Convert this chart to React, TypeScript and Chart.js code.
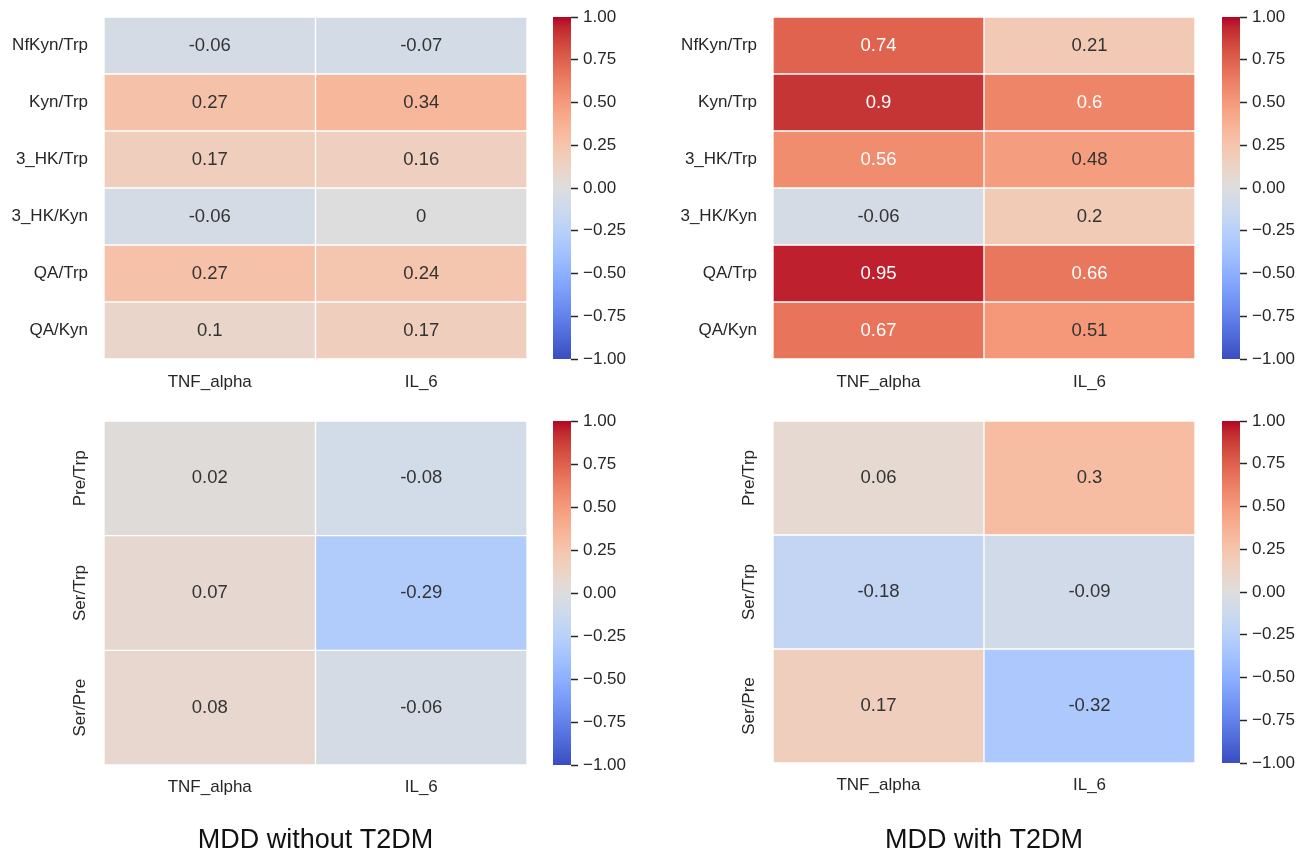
import React, { useEffect, useRef } from 'react';
import { Chart, registerables } from 'chart.js';

Chart.register(...registerables);

// ---------- data ----------
const columns = ['TNF_alpha', 'IL_6'];
const kynRows = ['NfKyn/Trp', 'Kyn/Trp', '3_HK/Trp', '3_HK/Kyn', 'QA/Trp', 'QA/Kyn'];
const serRows = ['Pre/Trp', 'Ser/Trp', 'Ser/Pre'];

const kynWithoutTNF = [-0.06, 0.27, 0.17, -0.06, 0.27, 0.1];
const kynWithoutIL6 = [-0.07, 0.34, 0.16, 0, 0.24, 0.17];
const kynWithTNF = [0.74, 0.9, 0.56, -0.06, 0.95, 0.67];
const kynWithIL6 = [0.21, 0.6, 0.48, 0.2, 0.66, 0.51];

const serWithoutTNF = [0.02, 0.07, 0.08];
const serWithoutIL6 = [-0.08, -0.29, -0.06];
const serWithTNF = [0.06, -0.18, 0.17];
const serWithIL6 = [0.3, -0.09, -0.32];

const colorbarTicks = [-1, -0.75, -0.5, -0.25, 0, 0.25, 0.5, 0.75, 1];
const groupTitles = ['MDD without T2DM', 'MDD with T2DM'];

// ---------- coolwarm colormap (matplotlib) ----------
const CW_R = [0.2298057, 0.26623388, 0.30386891, 0.342804478, 0.38301334, 0.424369608, 0.46666708, 0.509635204, 0.552953156, 0.596262162, 0.639176211, 0.681291281, 0.722193294, 0.761464949, 0.798691636, 0.833466556, 0.865395197, 0.897787179, 0.924127593, 0.944468518, 0.958852946, 0.96732803, 0.969954137, 0.966811177, 0.958003065, 0.943660866, 0.923944917, 0.89904617, 0.869186849, 0.834620542, 0.795631745, 0.752534934, 0.705673158];
const CW_G = [0.298717966, 0.353094838, 0.406535296, 0.458757618, 0.50941904, 0.558148092, 0.604562568, 0.648280772, 0.688929332, 0.726149107, 0.759599947, 0.788964712, 0.813952739, 0.834302879, 0.849786142, 0.860207984, 0.86541021, 0.848937047, 0.827384882, 0.800927443, 0.769767752, 0.734132809, 0.694266682, 0.650421156, 0.602842431, 0.551750968, 0.49730856, 0.439559467, 0.378313092, 0.312874446, 0.24128379, 0.157246067, 0.01555616];
const CW_B = [0.753683153, 0.801466763, 0.84495867, 0.883725899, 0.917387822, 0.945619588, 0.968154911, 0.98478814, 0.995375608, 0.999836203, 0.998151185, 0.990363227, 0.976574709, 0.956945269, 0.931688648, 0.901068838, 0.865395561, 0.820880546, 0.774508472, 0.726736146, 0.678007945, 0.628751763, 0.579375448, 0.530263762, 0.481775914, 0.434243684, 0.387970225, 0.343229596, 0.300267182, 0.259301199, 0.221380405, 0.184977307, 0.150232812];

function coolwarm(v: number): [number, number, number] {
  const t = Math.max(0, Math.min(1, (v + 1) / 2));
  const p = t * (CW_R.length - 1);
  const i = Math.min(CW_R.length - 2, Math.floor(p));
  const f = p - i;
  return [
    CW_R[i] + (CW_R[i + 1] - CW_R[i]) * f,
    CW_G[i] + (CW_G[i + 1] - CW_G[i]) * f,
    CW_B[i] + (CW_B[i + 1] - CW_B[i]) * f,
  ];
}
function css(c: [number, number, number]) {
  return `rgb(${Math.round(c[0] * 255)},${Math.round(c[1] * 255)},${Math.round(c[2] * 255)})`;
}
function luminance(c: [number, number, number]) {
  const lin = (x: number) => (x <= 0.03928 ? x / 12.92 : Math.pow((x + 0.055) / 1.055, 2.4));
  return 0.2126 * lin(c[0]) + 0.7152 * lin(c[1]) + 0.0722 * lin(c[2]);
}

const FONT = '"Liberation Sans", Arial, Helvetica, sans-serif';
const TEXT = '#262626';

const cellTextPlugin = {
  id: 'cellText',
  afterDatasetsDraw(chart: any, _args: any, opts: any) {
    const { ctx } = chart;
    const x = chart.scales.x;
    const y = chart.scales.y;
    const vals: number[][] = opts.values || [];
    ctx.save();
    ctx.font = `18.5px ${FONT}`;
    ctx.textAlign = 'center';
    ctx.textBaseline = 'middle';
    vals.forEach((col, c) => {
      col.forEach((v, r) => {
        ctx.fillStyle = luminance(coolwarm(v)) > 0.408 ? '#333333' : '#ffffff';
        ctx.fillText(String(parseFloat(v.toPrecision(2))), x.getPixelForValue(c), y.getPixelForValue(r + 0.5));
      });
    });
    ctx.restore();
  },
};

type HeatGeo = { padTop: number; padRight: number; yW: number; xH: number; xPad: number };

function heatmapConfig(rows: string[], cols: number[][], geo: HeatGeo, rotate: boolean, title?: string): any {
  return {
    type: 'bar',
    data: {
      labels: columns,
      datasets: rows.map((name, i) => ({
        label: name,
        data: cols.map(() => [i, i + 1]),
        backgroundColor: cols.map((c) => css(coolwarm(c[i]))),
        borderColor: '#ffffff',
        borderWidth: 1,
        borderSkipped: false,
        grouped: false,
        barPercentage: 1,
        categoryPercentage: 1,
      })),
    },
    options: {
      responsive: false,
      animation: false,
      layout: { padding: { top: geo.padTop, right: geo.padRight, left: 0, bottom: 0 } },
      plugins: {
        legend: { display: false },
        tooltip: { enabled: false },
        cellText: { values: cols },
      },
      scales: {
        x: {
          type: 'category',
          grid: { display: false, drawTicks: false },
          border: { display: false },
          afterFit: (s: any) => {
            s.height = geo.xH;
            s.paddingLeft = 0;
            s.paddingRight = 0;
          },
          ticks: {
            font: { family: FONT, size: 17 },
            color: TEXT,
            padding: geo.xPad,
            minRotation: 0,
            maxRotation: 0,
            autoSkip: false,
          },
          title: title
            ? {
                display: true,
                text: title,
                font: { family: FONT, size: 27 },
                color: '#111111',
                padding: { top: 0, bottom: 0 },
              }
            : { display: false },
        },
        y: {
          type: 'linear',
          min: 0,
          max: rows.length,
          reverse: true,
          grid: { display: false, drawTicks: false },
          border: { display: false },
          afterBuildTicks: (s: any) => {
            s.ticks = rows.map((_, i) => ({ value: i + 0.5 }));
          },
          afterFit: (s: any) => {
            s.width = geo.yW;
            s.paddingTop = 0;
            s.paddingBottom = 0;
          },
          ticks: {
            autoSkip: false,
            callback: (v: number) => rows[Math.floor(v)],
            font: { family: FONT, size: 17 },
            color: TEXT,
            padding: rotate ? -5 : 16,
            minRotation: rotate ? 90 : 0,
            maxRotation: rotate ? 90 : 0,
            crossAlign: rotate ? 'center' : 'near',
          },
        },
      },
    },
    plugins: [cellTextPlugin],
  };
}

type BarGeo = { padLeft: number; padTop: number; padBottom: number; axisW: number };

function colorbarConfig(geo: BarGeo): any {
  return {
    type: 'bar',
    data: {
      labels: ['r'],
      datasets: [
        {
          data: [[-1, 1]],
          backgroundColor: (c: any) => {
            const area = c.chart.chartArea;
            if (!area) return css(coolwarm(0));
            const g = c.chart.ctx.createLinearGradient(0, area.bottom, 0, area.top);
            for (let k = 0; k < CW_R.length; k++) {
              g.addColorStop(k / (CW_R.length - 1), css([CW_R[k], CW_G[k], CW_B[k]]));
            }
            return g;
          },
          borderWidth: 0,
          barPercentage: 1,
          categoryPercentage: 1,
          inflateAmount: 0,
        },
      ],
    },
    options: {
      responsive: false,
      animation: false,
      layout: { padding: { left: geo.padLeft, top: geo.padTop, bottom: geo.padBottom, right: 0 } },
      plugins: { legend: { display: false }, tooltip: { enabled: false } },
      scales: {
        x: { display: false },
        y: {
          position: 'right',
          min: -1,
          max: 1,
          grid: { drawOnChartArea: false, drawTicks: true, tickLength: 7, tickWidth: 1.5, tickColor: TEXT },
          border: { display: false },
          afterBuildTicks: (s: any) => {
            s.ticks = colorbarTicks.map((v) => ({ value: v }));
          },
          afterFit: (s: any) => {
            s.width = geo.axisW;
            s.paddingTop = 0;
            s.paddingBottom = 0;
          },
          ticks: {
            autoSkip: false,
            callback: (v: number) => v.toFixed(2).replace('-', '\u2212'),
            font: { family: FONT, size: 17 },
            color: TEXT,
            padding: 5,
          },
        },
      },
    },
  };
}

function ChartCanvas({ left, top, width, height, make }: { left: number; top: number; width: number; height: number; make: () => any }) {
  const ref = useRef<HTMLCanvasElement>(null);
  useEffect(() => {
    if (!ref.current) return;
    const chart = new Chart(ref.current, make());
    return () => chart.destroy();
  }, []);
  return (
    <canvas
      ref={ref}
      width={width}
      height={height}
      style={{ position: 'absolute', left, top, width, height, display: 'block' }}
    />
  );
}

export default function App() {
  return (
    <div style={{ position: 'absolute', left: 0, top: 0, width: 1309, height: 857, background: '#ffffff', overflow: 'hidden' }}>
      {/* MDD without T2DM - top */}
      <ChartCanvas
        left={0}
        top={0}
        width={540}
        height={400}
        make={() => heatmapConfig(kynRows, [kynWithoutTNF, kynWithoutIL6], { padTop: 17, padRight: 13, yW: 104, xH: 41, xPad: 13 }, false)}
      />
      <ChartCanvas left={540} top={0} width={110} height={400} make={() => colorbarConfig({ padLeft: 13, padTop: 17, padBottom: 41, axisW: 79 })} />
      {/* MDD without T2DM - bottom */}
      <ChartCanvas
        left={0}
        top={400}
        width={540}
        height={457}
        make={() => heatmapConfig(serRows, [serWithoutTNF, serWithoutIL6], { padTop: 21, padRight: 13, yW: 104, xH: 92, xPad: 12 }, true, groupTitles[0])}
      />
      <ChartCanvas left={540} top={400} width={110} height={457} make={() => colorbarConfig({ padLeft: 13, padTop: 21, padBottom: 92, axisW: 79 })} />
      {/* MDD with T2DM - top */}
      <ChartCanvas
        left={660}
        top={0}
        width={550}
        height={400}
        make={() => heatmapConfig(kynRows, [kynWithTNF, kynWithIL6], { padTop: 17, padRight: 15, yW: 113, xH: 41, xPad: 13 }, false)}
      />
      <ChartCanvas left={1210} top={0} width={99} height={400} make={() => colorbarConfig({ padLeft: 12, padTop: 17, padBottom: 41, axisW: 69 })} />
      {/* MDD with T2DM - bottom */}
      <ChartCanvas
        left={660}
        top={400}
        width={550}
        height={457}
        make={() => heatmapConfig(serRows, [serWithTNF, serWithIL6], { padTop: 21, padRight: 15, yW: 113, xH: 94, xPad: 12 }, true, groupTitles[1])}
      />
      <ChartCanvas left={1210} top={400} width={99} height={457} make={() => colorbarConfig({ padLeft: 12, padTop: 21, padBottom: 94, axisW: 69 })} />
    </div>
  );
}
